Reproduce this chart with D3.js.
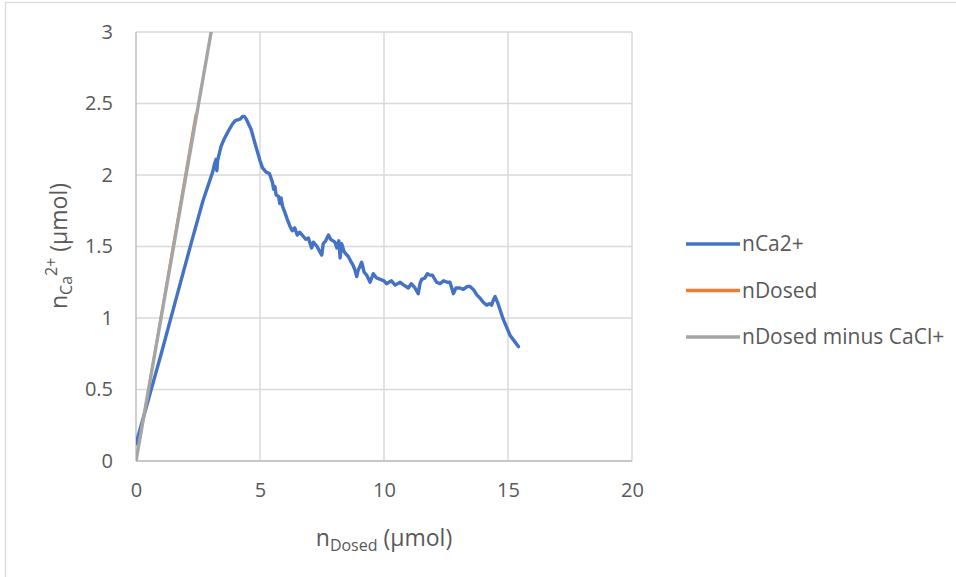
<!DOCTYPE html>
<html>
<head>
<meta charset="utf-8">
<script src="https://cdn.jsdelivr.net/npm/d3@7"></script>
<style>
  body { margin: 0; background: #fff; }
  text { font-family: "Open Sans", "Noto Sans", sans-serif; fill: #595959; }
</style>
</head>
<body>
<div class="chart-container"></div>
<script>
// data: [nDosed, nCa2+]
const nCa = [
  [0, 0.12], [0.5, 0.43], [1.0, 0.74], [1.61, 1.13], [2.22, 1.52], [2.7, 1.82],
  [3.09, 2.02], [3.17, 2.08], [3.23, 2.11], [3.26, 2.03], [3.29, 2.10], [3.43, 2.20],
  [3.55, 2.25], [3.7, 2.30], [3.9, 2.36], [4.0, 2.38], [4.2, 2.39], [4.3, 2.41],
  [4.37, 2.41], [4.45, 2.39], [4.64, 2.32], [4.8, 2.22], [5.0, 2.10], [5.1, 2.05],
  [5.25, 2.02], [5.38, 2.01], [5.5, 1.95], [5.55, 1.90], [5.6, 1.92], [5.65, 1.86],
  [5.75, 1.85], [5.8, 1.80], [5.85, 1.84], [5.91, 1.78], [6.0, 1.74], [6.1, 1.69],
  [6.21, 1.64], [6.3, 1.61], [6.4, 1.63], [6.5, 1.58], [6.6, 1.60], [6.75, 1.57],
  [6.85, 1.55], [6.95, 1.56], [7.08, 1.49], [7.15, 1.53], [7.3, 1.50], [7.49, 1.44],
  [7.55, 1.52], [7.65, 1.54], [7.76, 1.58], [7.85, 1.55], [8.02, 1.53], [8.1, 1.49],
  [8.18, 1.54], [8.23, 1.42], [8.29, 1.52], [8.4, 1.46], [8.56, 1.43], [8.65, 1.40],
  [8.75, 1.37], [8.82, 1.34], [8.9, 1.29], [8.95, 1.33], [9.1, 1.39], [9.2, 1.32],
  [9.3, 1.30], [9.44, 1.25], [9.57, 1.31], [9.7, 1.28], [9.85, 1.27], [10.0, 1.26],
  [10.1, 1.24], [10.3, 1.26], [10.45, 1.23], [10.65, 1.25], [10.8, 1.23], [10.98, 1.21],
  [11.1, 1.24], [11.25, 1.21], [11.38, 1.17], [11.45, 1.24], [11.52, 1.27], [11.65, 1.28],
  [11.75, 1.31], [11.85, 1.30], [11.95, 1.30], [12.12, 1.25], [12.26, 1.24], [12.4, 1.26],
  [12.55, 1.25], [12.66, 1.25], [12.8, 1.17], [12.9, 1.21], [13.06, 1.21], [13.2, 1.20],
  [13.35, 1.22], [13.47, 1.22], [13.6, 1.20], [13.75, 1.16], [13.87, 1.14], [14.0, 1.11],
  [14.14, 1.09], [14.25, 1.10], [14.34, 1.09], [14.42, 1.13], [14.48, 1.15], [14.6, 1.10],
  [14.81, 0.99], [15.08, 0.88], [15.25, 0.84], [15.42, 0.80]
];
const nDosed = [[0.12, 0.12], [2.40, 2.42]];
const nDosedMinusCaCl = [[0, 0], [3.03, 3.0]];

const xTicks = [0, 5, 10, 15, 20];
const yTicks = [0, 0.5, 1, 1.5, 2, 2.5, 3];

const seriesNames = ["nCa2+", "nDosed", "nDosed minus CaCl+"];
const seriesColors = ["#4472C4", "#ED7D31", "#A5A5A5"];

// plot area
const margin = {top: 32, right: 324, bottom: 116, left: 136};
const W = 956, H = 577;
const w = W - margin.left - margin.right;
const h = H - margin.top - margin.bottom;

const svg = d3.select(".chart-container")
    .append("svg")
    .attr("width", W)
    .attr("height", H);

// chart border (only left and top edges show in the picture)
svg.append("rect")
    .attr("x", 5.5).attr("y", 2.5)
    .attr("width", 1000).attr("height", 700)
    .attr("fill", "none")
    .attr("stroke", "#D9D9D9")
    .attr("stroke-width", 1.3);

const g = svg.append("g")
    .attr("transform", "translate(" + margin.left + "," + margin.top + ")");

const xScale = d3.scaleLinear().domain([0, 20]).range([0, w]);
const yScale = d3.scaleLinear().domain([0, 3]).range([h, 0]);

// gridlines
g.append("g")
    .selectAll("line.hgrid")
    .data(yTicks)
    .join("line")
    .attr("x1", 0).attr("x2", w)
    .attr("y1", d => yScale(d)).attr("y2", d => yScale(d))
    .attr("stroke", "#D9D9D9")
    .attr("stroke-width", 1.5);

g.append("g")
    .selectAll("line.vgrid")
    .data(xTicks)
    .join("line")
    .attr("y1", 0).attr("y2", h)
    .attr("x1", d => xScale(d)).attr("x2", d => xScale(d))
    .attr("stroke", d => d === 0 ? "#BFBFBF" : "#D9D9D9")
    .attr("stroke-width", 1.5);

// x-axis at y=0
g.append("line")
    .attr("x1", 0).attr("x2", w)
    .attr("y1", yScale(0)).attr("y2", yScale(0))
    .attr("stroke", "#BFBFBF")
    .attr("stroke-width", 1.5);

// tick labels via d3 axes, then strip lines
const xAxis = g.append("g")
    .attr("transform", "translate(0," + h + ")")
    .call(d3.axisBottom(xScale).tickValues(xTicks).tickFormat(d3.format("d")).tickSize(0).tickPadding(22));
const yAxis = g.append("g")
    .call(d3.axisLeft(yScale).tickValues(yTicks).tickFormat(d => d).tickSize(0).tickPadding(23));

[xAxis, yAxis].forEach(a => {
    a.select(".domain").remove();
    a.selectAll("text")
        .attr("font-size", "20px")
        .attr("font-family", "Open Sans, Noto Sans, sans-serif")
        .attr("fill", "#595959");
});

// clip lines to the plot area
svg.append("clipPath").attr("id", "plotclip")
    .append("rect").attr("width", w).attr("height", h);

const line = d3.line()
    .x(d => xScale(d[0]))
    .y(d => yScale(d[1]));

const lines = g.append("g").attr("clip-path", "url(#plotclip)");
[nCa, nDosed, nDosedMinusCaCl].forEach((data, i) => {
    lines.append("path")
        .datum(data)
        .attr("d", line)
        .attr("fill", "none")
        .attr("stroke", seriesColors[i])
        .attr("stroke-width", i === 1 ? 2.2 : 3.4)
        .attr("stroke-linejoin", "round")
        .attr("stroke-linecap", "round");
});

// axis titles
const xTitle = svg.append("text")
    .attr("x", 384).attr("y", 546)
    .attr("text-anchor", "middle")
    .attr("font-size", "23px");
xTitle.append("tspan").text("n");
xTitle.append("tspan").attr("font-size", "16px").attr("dy", 5).text("Dosed");
xTitle.append("tspan").attr("dy", -5).text(" (\u00b5mol)");

const yTitle = svg.append("text")
    .attr("transform", "translate(67,246) rotate(-90)")
    .attr("text-anchor", "middle")
    .attr("font-size", "23px");
yTitle.append("tspan").text("n");
yTitle.append("tspan").attr("font-size", "16px").attr("dy", 5).text("Ca");
yTitle.append("tspan").attr("font-size", "16px").attr("dy", -15).text("2+");
yTitle.append("tspan").attr("dy", 10).text(" (\u00b5mol)");

// legend
const legend = svg.append("g");
const legendY = d3.scalePoint().domain(seriesNames).range([244, 337]);
legend.selectAll("line")
    .data(seriesNames)
    .join("line")
    .attr("x1", 686).attr("x2", 740)
    .attr("y1", d => legendY(d)).attr("y2", d => legendY(d))
    .attr("stroke", (d, i) => seriesColors[i])
    .attr("stroke-width", 3.4);
legend.selectAll("text")
    .data(seriesNames)
    .join("text")
    .attr("x", 742)
    .attr("y", d => legendY(d))
    .attr("dy", "0.35em")
    .attr("font-size", "21px")
    .text(d => d);
</script>
</body>
</html>
